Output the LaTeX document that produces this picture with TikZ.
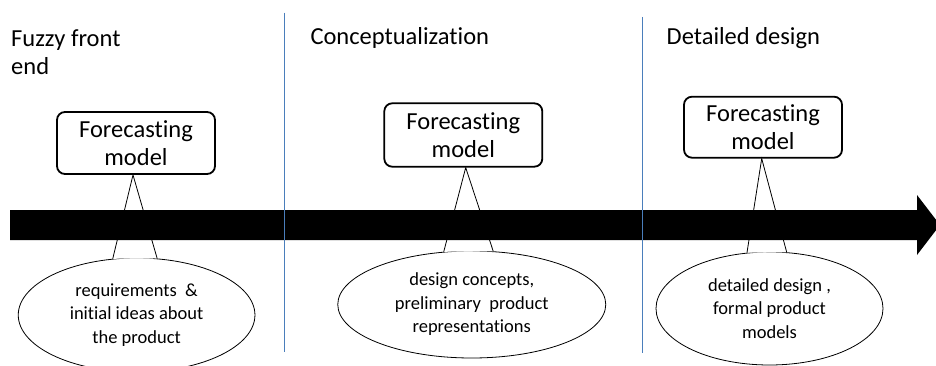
\documentclass[tikz,border=0pt]{standalone}
\usepackage{fontspec}
\setmainfont{Carlito}[Ligatures=NoCommon]
\usetikzlibrary{shapes.geometric,calc}
\definecolor{divblue}{RGB}{74,126,187}
\begin{document}
\begin{tikzpicture}[x=1pt,y=-1pt,
  phase/.style={anchor=base west,inner sep=0,align=left,font=\fontsize{24.5}{28}\selectfont},
  fcbox/.style={draw,line width=1.8pt,rounded corners=8pt,fill=white,minimum width=158pt,minimum height=62pt,inner sep=0,align=center,font=\fontsize{24.5}{28}\selectfont},
  bubble/.style={ellipse,draw,line width=0.8pt,fill=white,inner sep=0,align=center,font=\fontsize{18.5}{23.5}\selectfont},
  pointer/.style={line width=0.8pt},
  divider/.style={draw=divblue,line width=1pt}]
\useasboundingbox (0,0) rectangle (936,366);

% forecasting boxes
\node[fcbox] (b1) at (136,143) {Forecasting\\model};
\node[fcbox,minimum height=63.4pt] (b2) at (463.3,135) {Forecasting\\model};
\node[fcbox,minimum height=61pt] (b3) at (763,127.2) {Forecasting\\model};

% bubbles
\node[bubble,minimum width=236.7pt,minimum height=114pt] (e1) at (136.6,315) {requirements\ \ \&\\initial ideas about\\the product};
\node[bubble,minimum width=268pt,minimum height=107pt] (e2) at (471.75,304.5) {design concepts,\\preliminary\ \ product\\representations};
\node[bubble,minimum width=227pt,minimum height=113pt] (e3) at (769.5,308.5) {detailed design ,\\formal product\\models};

% callout pointers
\coordinate (a1) at ($(b1.south)+(-3,0)$);
\coordinate (a2) at ($(b2.south)+(2.4,0)$);
\coordinate (a3) at ($(b3.south)+(-1.3,0)$);
\fill[white] (e1.113) -- (a1) -- (e1.70) -- cycle;
\draw[pointer] (e1.113) -- (a1) -- (e1.70);
\fill[white] (e2.118) -- (a2) -- (e2.68) -- cycle;
\draw[pointer] (e2.118) -- (a2) -- (e2.68);
\fill[white] (e3.112) -- (a3) -- (e3.73) -- cycle;
\draw[pointer] (e3.112) -- (a3) -- (e3.73);

% timeline arrow
\fill[black] (10,210) -- (917,210) -- (917,195) -- (940,225) -- (917,255) -- (917,240) -- (10,240) -- cycle;

% phase dividers
\draw[divider] (284,12.7) -- (284,352);
\draw[divider] (642,17) -- (642,353);

% phase headings
\node[phase] (h1) at (11,75) {Fuzzy front\\end};
\node[phase] (h2) at (310.3,45) {Conceptualization};
\node[phase] (h3) at (666.5,45) {Detailed design};
\end{tikzpicture}
\end{document}
